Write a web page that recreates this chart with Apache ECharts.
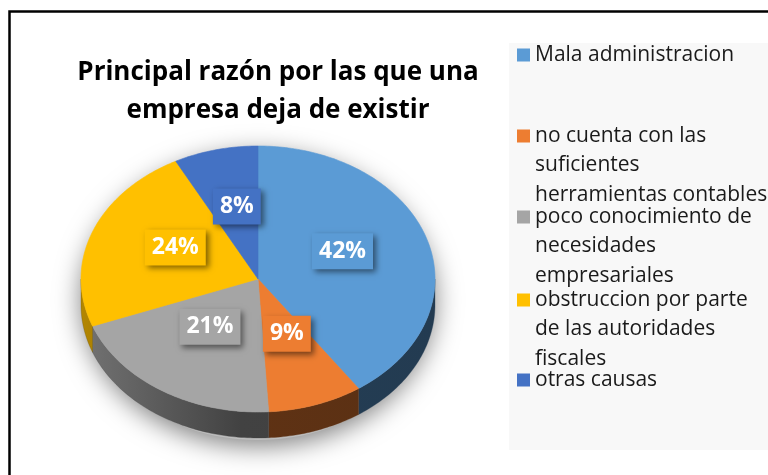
<!DOCTYPE html>
<html>
<head>
<meta charset="utf-8">
<script src="https://cdn.jsdelivr.net/npm/echarts@6/dist/echarts.min.js"></script>
<style>html,body{margin:0;padding:0;background:#fff;}#c{width:768px;height:475px;}</style>
</head>
<body>
<div id="c"></div>
<script>
// ---- data ----
const categories = [
  'Mala administracion',
  'no cuenta con las suficientes herramientas contables',
  'poco conocimiento de necesidades empresariales',
  'obstruccion por parte de las autoridades fiscales',
  'otras causas'
];
const values = [42, 9, 21, 24, 8];
const legendLines = [
  ['Mala administracion'],
  ['no cuenta con las', 'suficientes', 'herramientas contables'],
  ['poco conocimiento de', 'necesidades', 'empresariales'],
  ['obstruccion por parte', 'de las autoridades', 'fiscales'],
  ['otras causas']
];
const colors = ['#5B9BD5', '#ED7D31', '#A5A5A5', '#FFC000', '#4472C4'];
const titleText = 'Principal razón por las que una\nempresa deja de existir';

// ---- layout ----
const CX = 258, CY = 279, RX = 177, RY = 133, DEPTH = 26;
const LH = 29.5;
const legendFirstLineY = [55, 136, 217, 300, 380];

const total = values.reduce((a, b) => a + b, 0);
const starts = [];
{ let acc = 0; values.forEach(v => { starts.push(acc); acc += v; }); }

function shade(hex, f) {
  const n = parseInt(hex.slice(1), 16);
  const r = Math.round(((n >> 16) & 255) * f), g = Math.round(((n >> 8) & 255) * f), b = Math.round((n & 255) * f);
  return 'rgb(' + r + ',' + g + ',' + b + ')';
}
function pt(t, dy) { return [CX + RX * Math.sin(t), CY - RY * Math.cos(t) + (dy || 0)]; }
function arc(a0, a1, dy) {
  const n = Math.max(2, Math.ceil((a1 - a0) / (Math.PI / 180)));
  const out = [];
  for (let k = 0; k <= n; k++) out.push(pt(a0 + (a1 - a0) * k / n, dy));
  return out;
}

function sliceRenderer(i) {
  return function (params, api) {
    const v = api.value(0);
    const a0 = starts[i] / total * 2 * Math.PI;
    const a1 = (starts[i] + v) / total * 2 * Math.PI;
    const children = [];
    const s0 = Math.max(a0, Math.PI / 2), s1 = Math.min(a1, 3 * Math.PI / 2);
    if (s1 > s0) {
      const top = arc(s0, s1, 0);
      const bot = arc(s0, s1, DEPTH).reverse();
      children.push({
        type: 'polygon',
        shape: { points: top.concat(bot) },
        style: {
          fill: {
            type: 'linear', x: CX - RX, y: 0, x2: CX + RX, y2: 0, global: true,
            colorStops: [
              { offset: 0, color: shade(colors[i], 0.7) },
              { offset: 0.45, color: shade(colors[i], 0.4) },
              { offset: 1, color: shade(colors[i], 0.38) }
            ]
          },
          stroke: shade(colors[i], 0.4), lineWidth: 0.3
        }
      });
    }
    const pts = [[CX, CY]].concat(arc(a0, a1, 0));
    children.push({
      type: 'polygon',
      shape: { points: pts },
      style: { fill: colors[i], stroke: colors[i], lineWidth: 0.6 }
    });
    return { type: 'group', children: children };
  };
}

function labelRenderer(params, api) {
  const i = params.dataIndex;
  const v = api.value(0);
  const mid = (starts[i] + v / 2) / total * 2 * Math.PI;
  const x = CX + 0.5 * RX * Math.sin(mid);
  const y = CY - 0.5 * RY * Math.cos(mid) - 8;
  return {
    type: 'text', x: x, y: y,
    style: {
      text: v + '%', fill: '#fff',
      font: 'bold 23px "Open Sans"',
      align: 'center', verticalAlign: 'middle',
      lineHeight: 28,
      backgroundColor: colors[i],
      padding: [4, 7, 4, 7],
      shadowBlur: 6, shadowColor: 'rgba(0,0,0,0.5)', shadowOffsetX: 3, shadowOffsetY: 3
    }
  };
}

const series = values.map((v, i) => ({
  type: 'custom',
  name: categories[i],
  coordinateSystem: 'none',
  itemStyle: { color: colors[i] },
  data: [v],
  z: 2,
  renderItem: sliceRenderer(i)
}));
series.push({
  type: 'custom',
  name: 'labels',
  coordinateSystem: 'none',
  data: values,
  z: 5,
  renderItem: labelRenderer
});

const legends = categories.map((c, i) => {
  const n = legendLines[i].length;
  return {
    data: [c],
    left: 517,
    top: legendFirstLineY[i] - (2 * n - 1) * LH / 2,
    padding: 0,
    icon: 'rect',
    itemWidth: 13, itemHeight: 13,
    selectedMode: false,
    textStyle: { fontFamily: 'Open Sans', fontSize: 21, lineHeight: LH, color: '#1a1a1a' },
    formatter: function () {
      return new Array(n - 1).fill('').concat(legendLines[i]).join('\n');
    }
  };
});

const chart = echarts.init(document.getElementById('c'), null, { renderer: 'canvas' });
chart.setOption({
  animation: false,
  backgroundColor: '#fff',
  title: {
    text: titleText,
    left: 278, top: 54, padding: 0,
    textAlign: 'center', textVerticalAlign: 'top',
    textStyle: { fontFamily: 'Open Sans', fontWeight: 'bold', fontSize: 26, lineHeight: 38, color: '#000' }
  },
  legend: legends,
  graphic: [
    { type: 'rect', z: -10, shape: { x: 509, y: 43, width: 270, height: 407 }, style: { fill: '#f8f8f8' } },
    { type: 'ellipse', z: -5, shape: { cx: CX, cy: CY + DEPTH / 2 + 2, rx: RX, ry: RY + DEPTH / 2 },
      style: { fill: '#bdbdbd', shadowBlur: 26, shadowColor: 'rgba(0,0,0,0.5)', shadowOffsetY: 6 } },
    { type: 'rect', z: 100, shape: { x: 9.5, y: 11.5, width: 800, height: 500 }, style: { fill: null, stroke: '#000', lineWidth: 2.5 } }
  ],
  series: series
});
</script>
</body>
</html>
